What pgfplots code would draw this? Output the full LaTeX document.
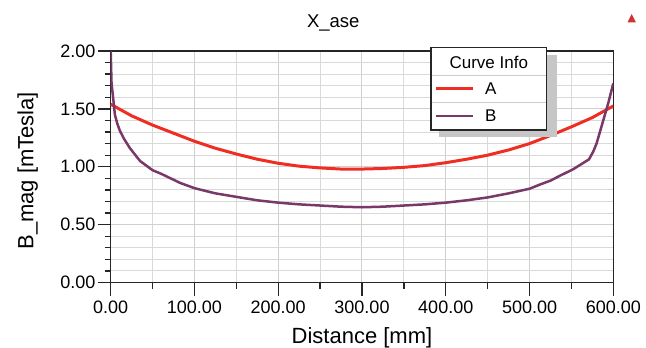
\documentclass[border=0pt]{standalone}
\usepackage{pgfplots}
\pgfplotsset{compat=1.18}
\usepackage{fontspec}
\setmainfont{Liberation Sans}
\definecolor{cA}{RGB}{240,45,35}
\definecolor{cB}{RGB}{122,56,104}
\begin{document}
\begin{tikzpicture}
\useasboundingbox (-110.7pt,-65.5pt) rectangle (535.3pt,282.5pt);
\begin{axis}[
  scale only axis,
  width=502.6pt, height=231.5pt,
  xmin=0, xmax=600, ymin=0, ymax=2,
  xtick={0,100,...,600},
  ytick={0,0.5,1,1.5,2},
  minor x tick num=1,
  minor y tick num=4,
  grid=both,
  major grid style={gray!38, line width=1pt},
  minor grid style={gray!30, line width=1pt},
  tick pos=left,
  tick align=outside,
  major tick length=13pt,
  minor tick length=6pt,
  every tick/.style={black!85, line width=1.3pt},
  axis line style={black!85, line width=1.4pt},
  ticklabel style={font=\fontsize{18}{20}\selectfont},
  yticklabel style={inner sep=2pt},
  xticklabel style={inner sep=5.5pt},
  /pgf/number format/fixed,
  /pgf/number format/fixed zerofill,
  /pgf/number format/precision=2,
  /pgf/number format/assume math mode=true,
]
\addplot[cA, line width=3pt] coordinates {
(0,1.54) (25,1.44) (50,1.36) (75,1.29) (100,1.22) (125,1.16) (150,1.11)
(175,1.065) (200,1.03) (225,1.005) (250,0.99) (275,0.98) (300,0.98)
(325,0.985) (350,0.995) (375,1.01) (400,1.035) (425,1.065) (450,1.10)
(475,1.145) (500,1.20) (525,1.27) (550,1.345) (575,1.425) (600,1.525)
};
\addplot[cB, line width=2.5pt] coordinates {
(0,2.0) (1,1.72) (2.4,1.63) (5,1.45) (8,1.37) (11,1.31) (16,1.24) (23,1.16)
(35,1.05) (50,0.97) (60,0.94) (83,0.86) (100,0.815) (125,0.77) (150,0.74)
(175,0.71) (200,0.69) (225,0.675) (250,0.665) (275,0.655) (300,0.65)
(325,0.655) (350,0.665) (375,0.675) (400,0.69) (425,0.71) (450,0.735)
(475,0.77) (500,0.81) (512,0.845) (525,0.88) (537,0.925) (552,0.978)
(571,1.064) (576,1.13) (580,1.2) (584,1.30) (588,1.40) (594,1.55) (600,1.72)
};
\end{axis}
\begin{scope}[shift={(-110.7pt,282.5pt)}, x=1pt, y=-1pt]
  % title
  \node[anchor=base, inner sep=0pt, font=\fontsize{18.5}{20}\selectfont] at (333.3,28) {X\_ase};
  % axis labels
  \node[anchor=base, inner sep=0pt, font=\fontsize{22}{24}\selectfont] at (362,344) {Distance [mm]};
  \node[anchor=base, rotate=90, inner sep=0pt, font=\fontsize{22}{24}\selectfont] at (33.3,170.8) {B\_mag [mTesla]};
  % small marker top right
  \fill[red!60!gray] (627.5,22.5) -- (636,22.5) -- (631.7,14) -- cycle;
  % legend
  \fill[gray!45] (439.3,55) rectangle (556.7,137.3);
  \filldraw[fill=white, draw=black!85, line width=1.4pt] (431,47.3) rectangle (546.7,130);
  \draw[gray!40, line width=1pt] (431.7,75.7) -- (546,75.7);
  \draw[gray!40, line width=1pt] (431.7,102.7) -- (546,102.7);
  \node[anchor=base, inner sep=0pt, font=\fontsize{17}{19}\selectfont] at (488.8,68.3) {Curve Info};
  \draw[cA, line width=3pt] (436,89) -- (472.7,89);
  \draw[cB, line width=2.5pt] (436,116) -- (472.7,116);
  \node[anchor=base, inner sep=0pt, font=\fontsize{17}{19}\selectfont] at (490.8,95) {A};
  \node[anchor=base, inner sep=0pt, font=\fontsize{17}{19}\selectfont] at (490.8,121.7) {B};
\end{scope}
\end{tikzpicture}
\end{document}
